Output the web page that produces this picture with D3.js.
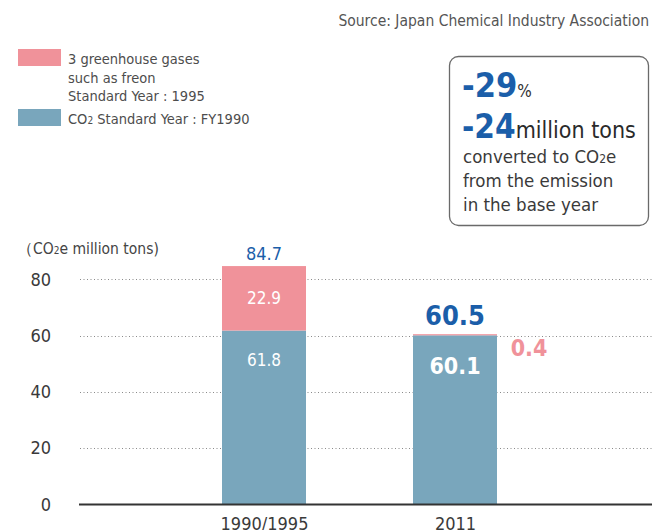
<!DOCTYPE html>
<html>
<head>
<meta charset="utf-8">
<script src="https://cdn.jsdelivr.net/npm/d3@7"></script>
<style>
  html, body { margin: 0; padding: 0; background: #fff; }
  svg { display: block; }
  text { font-family: "Liberation Sans Narrow", "DejaVu Sans Condensed", "Roboto", sans-serif; }
</style>
</head>
<body>
<svg id="chart" width="652" height="530"></svg>
<script>
// Emissions by year (CO2e million tons)
const categories = ["1990/1995", "2011"];
const co2Values = [61.8, 60.1];
const otherGasValues = [22.9, 0.4];
const yTicks = [0, 20, 40, 60, 80];

const colors = { co2: "#79a6bc", other: "#f0929a", blue: "#1b5ea9", text: "#4d4d4d" };

const svg = d3.select("#chart");
const W = 652;

const y = d3.scaleLinear().domain([0, 80]).range([504.5, 279.3]);
const x = d3.scalePoint().domain(categories).range([264, 455]);
const barW = 84;

// Source line
svg.append("text")
  .attr("x", 649).attr("y", 26)
  .attr("text-anchor", "end")
  .attr("font-size", 15.5)
  .attr("fill", "#555")
  .text("Source: Japan Chemical Industry Association");

// Legend
const legend = svg.append("g");
legend.append("rect").attr("x", 18).attr("y", 49).attr("width", 43).attr("height", 17).attr("fill", colors.other);
legend.append("text").attr("x", 68).attr("y", 64).attr("font-size", 14.5).attr("fill", colors.text)
  .selectAll("tspan")
  .data(["3 greenhouse gases", "such as freon", "Standard Year : 1995"])
  .join("tspan")
  .attr("x", 68)
  .attr("dy", (d, i) => i === 0 ? 0 : 18.5)
  .text(d => d);
legend.append("rect").attr("x", 18).attr("y", 109).attr("width", 43).attr("height", 17).attr("fill", colors.co2);
const leg2 = legend.append("text").attr("x", 68).attr("y", 124).attr("font-size", 14.5).attr("fill", colors.text);
leg2.append("tspan").text("CO");
leg2.append("tspan").attr("font-size", 10).text("2");
leg2.append("tspan").text("  Standard Year : FY1990");

// Summary box
const box = svg.append("g");
box.append("rect")
  .attr("x", 449.5).attr("y", 56.5).attr("width", 199).attr("height", 169)
  .attr("rx", 9).attr("ry", 9)
  .attr("fill", "#fff").attr("stroke", "#6a6a6a").attr("stroke-width", 1.3);
const l1 = box.append("text").attr("x", 462).attr("y", 97);
l1.append("tspan").attr("font-size", 34).attr("font-weight", "bold").attr("fill", colors.blue).text("-29");
l1.append("tspan").attr("font-size", 17).attr("fill", "#333").text("%");
const l2 = box.append("text").attr("x", 462).attr("y", 138);
l2.append("tspan").attr("font-size", 33).attr("font-weight", "bold").attr("fill", colors.blue).text("-24");
l2.append("tspan").attr("font-size", 23).attr("fill", "#2a2a2a").text("million tons");
const l3 = box.append("text").attr("x", 463).attr("y", 163).attr("font-size", 18.5).attr("fill", "#3a3a3a");
l3.append("tspan").text("converted to CO");
l3.append("tspan").attr("font-size", 12).text("2");
l3.append("tspan").text("e");
box.append("text").attr("x", 463).attr("y", 187).attr("font-size", 18.5).attr("fill", "#3a3a3a").text("from the emission");
box.append("text").attr("x", 463).attr("y", 211).attr("font-size", 18.5).attr("fill", "#3a3a3a").text("in the base year");

// Axis title
const at = svg.append("text").attr("x", 17).attr("y", 254).attr("font-size", 15.5).attr("fill", "#444");
at.append("tspan").text("（CO");
at.append("tspan").attr("font-size", 10).text("2");
at.append("tspan").text("e million tons)");

// Gridlines
svg.append("g").selectAll("line")
  .data(yTicks.filter(t => t > 0))
  .join("line")
  .attr("x1", 80).attr("x2", W)
  .attr("y1", d => Math.round(y(d)) + 0.5).attr("y2", d => Math.round(y(d)) + 0.5)
  .attr("stroke", "#8a8a8a").attr("stroke-width", 1).attr("stroke-dasharray", "1,2.5");

// Y axis labels
const yAxis = d3.axisLeft(y).tickValues(yTicks).tickSize(0).tickPadding(0);
const yg = svg.append("g").attr("transform", "translate(51,0)").call(yAxis);
yg.select(".domain").remove();
yg.selectAll("text").attr("font-size", 18).attr("fill", "#3a3a3a").attr("dy", "0.32em")
  .style("font-family", "'Liberation Sans Narrow', 'DejaVu Sans Condensed', sans-serif");

// Bars
const stacked = categories.map((c, i) => ({ cat: c, co2: co2Values[i], other: otherGasValues[i], total: +(co2Values[i] + otherGasValues[i]).toFixed(1) }));
const bars = svg.append("g");
bars.selectAll("rect.co2").data(stacked).join("rect")
  .attr("class", "co2")
  .attr("x", d => x(d.cat) - barW / 2).attr("width", barW)
  .attr("y", d => y(d.co2)).attr("height", d => y(0) - y(d.co2))
  .attr("fill", colors.co2);
bars.selectAll("rect.other").data(stacked).join("rect")
  .attr("class", "other")
  .attr("x", d => x(d.cat) - barW / 2).attr("width", barW)
  .attr("y", d => y(d.total)).attr("height", d => y(d.co2) - y(d.total))
  .attr("fill", colors.other);

// Baseline
svg.append("line").attr("x1", 79).attr("x2", W).attr("y1", y(0)).attr("y2", y(0))
  .attr("stroke", "#333").attr("stroke-width", 2.2);

// X axis labels
const xAxis = d3.axisBottom(x).tickSize(0).tickPadding(0);
const xg = svg.append("g").attr("transform", `translate(0,${y(0)})`).call(xAxis);
xg.select(".domain").remove();
xg.selectAll("text").attr("font-size", 18).attr("fill", "#3a3a3a").attr("dy", "1.4em")
  .style("font-family", "'Liberation Sans Narrow', 'DejaVu Sans Condensed', sans-serif");

// Value labels: base year
const b0 = stacked[0];
svg.append("text").attr("x", x(b0.cat)).attr("y", y(b0.total) - 6).attr("text-anchor", "middle")
  .attr("font-size", 18).attr("fill", colors.blue).text(b0.total.toFixed(1));
svg.append("text").attr("x", x(b0.cat)).attr("y", (y(b0.total) + y(b0.co2)) / 2 + 6).attr("text-anchor", "middle")
  .attr("font-size", 17).attr("fill", "#fff").text(b0.other.toFixed(1));
svg.append("text").attr("x", x(b0.cat)).attr("y", y(b0.co2) + 35).attr("text-anchor", "middle")
  .attr("font-size", 17).attr("fill", "#fff").text(b0.co2.toFixed(1));

// Value labels: 2011
const b1 = stacked[1];
svg.append("text").attr("x", x(b1.cat)).attr("y", y(b1.total) - 9).attr("text-anchor", "middle")
  .attr("font-size", 27).attr("font-weight", "bold").attr("fill", colors.blue).text(b1.total.toFixed(1));
svg.append("text").attr("x", x(b1.cat)).attr("y", y(b1.co2) + 39).attr("text-anchor", "middle")
  .attr("font-size", 23).attr("font-weight", "bold").attr("fill", "#fff").text(b1.co2.toFixed(1));
svg.append("text").attr("x", 529).attr("y", y(b1.co2) + 21).attr("text-anchor", "middle")
  .attr("font-size", 23).attr("font-weight", "bold").attr("fill", colors.other).text(b1.other.toFixed(1));
</script>
</body>
</html>
